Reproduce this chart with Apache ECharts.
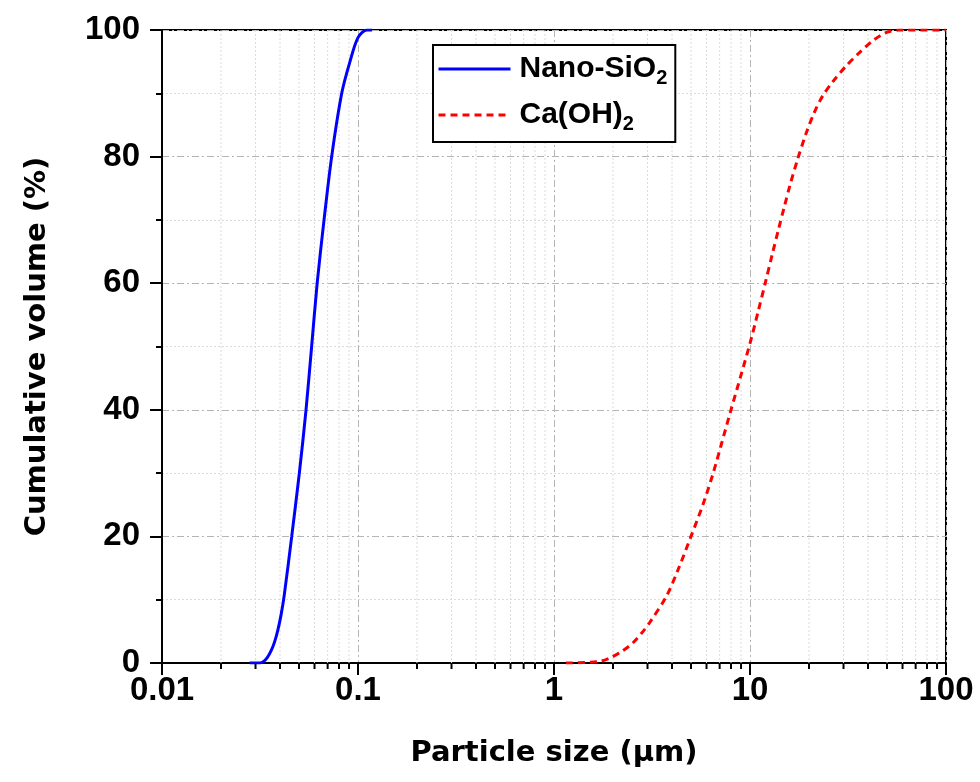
<!DOCTYPE html>
<html>
<head>
<meta charset="utf-8">
<title>Particle size distribution</title>
<script src="https://cdn.jsdelivr.net/npm/echarts@6/dist/echarts.min.js"></script>
<style>
  html, body { margin: 0; padding: 0; background: #fff; }
  #chart { width: 980px; height: 782px; }
</style>
</head>
<body>
<div id="chart"></div>
<script>
// Cumulative particle size distributions (size in µm, cumulative volume in %)
const nanoSize = [0.028, 0.0316, 0.033, 0.0345, 0.036, 0.0375, 0.039, 0.0405, 0.042, 0.0459, 0.0502, 0.0543, 0.058, 0.0619, 0.0671, 0.0734, 0.0826, 0.091, 0.1, 0.111, 0.118];
const nanoVol  = [0, 0, 0.25, 0.9, 1.9, 3.3, 5.2, 7.6, 10.6, 20, 30, 40, 50, 60, 70, 80, 90, 95, 98.8, 100, 100];

const caSize = [1.15, 1.68, 1.93, 2.21, 2.53, 2.85, 3.08, 3.74, 4.29, 5.0, 5.75, 6.46, 7.12, 8.0, 9.0, 10.0, 11.0, 12.0, 13.0, 14.0, 15.0, 16.0, 17.5, 19.3, 21.3, 23.5, 26.4, 30.9, 36.1, 42.3, 49.4, 57.8, 100];
const caVol  = [0, 0.2, 0.8, 1.8, 3.2, 5.0, 6.4, 10.5, 14.7, 20, 25, 29.8, 34.4, 40, 45.5, 50.5, 55.5, 60.2, 64.6, 68.6, 72.2, 75.5, 79.6, 83.6, 87.0, 89.6, 91.8, 94.3, 96.4, 98.3, 99.6, 100, 100];

const seriesNames = ['Nano-SiO2', 'Ca(OH)2'];
const xTickLabels = ['0.01', '0.1', '1', '10', '100'];
const yTickLabels = ['0', '20', '40', '60', '80', '100'];

// minor positions on the log axis: 2..9 within each decade
const decades = [0.01, 0.1, 1, 10];
const minorMultipliers = [2, 3, 4, 5, 6, 7, 8, 9];
const minorX = [];
decades.forEach(d => minorMultipliers.forEach(m => minorX.push([+(d * m).toPrecision(3), 0])));

const zip = (xs, ys) => xs.map((x, i) => [x, ys[i]]);

const labelFont = { color: '#000', fontWeight: 'bold', fontFamily: 'Liberation Sans, Arial, sans-serif', fontSize: 33 };
const titleFont = { color: '#000', fontWeight: 'bold', fontFamily: 'DejaVu Sans, sans-serif', fontSize: 29 };
const majorGrid = { color: '#b4b4b4', width: 1, type: [7, 3, 2, 3] };
const minorGrid = { color: '#dcdcdc', width: 1, type: [2, 2] };

const chart = echarts.init(document.getElementById('chart'), null, { renderer: 'canvas' });

chart.setOption({
  backgroundColor: '#fff',
  animation: false,
  grid: {
    left: 162, right: 34, top: 30, bottom: 119,
    show: true, borderColor: '#000', borderWidth: 2, backgroundColor: 'transparent'
  },
  legend: {
    orient: 'vertical',
    left: 433, top: 45,
    padding: [5, 8, 8, 4],
    itemGap: 8,
    itemWidth: 72,
    itemHeight: 14,
    borderColor: '#000',
    borderWidth: 2,
    backgroundColor: '#fff',
    itemStyle: { opacity: 0 },
    lineStyle: { width: 3 },
    data: seriesNames,
    formatter: name => name.replace(/2$/, '{sub|2}'),
    textStyle: {
      color: '#000', fontWeight: 'bold', fontFamily: 'Liberation Sans, Arial, sans-serif',
      fontSize: 30, lineHeight: 38, padding: [0, 0, 0, 4],
      rich: {
        sub: { fontSize: 20, fontWeight: 'bold', fontFamily: 'Liberation Sans, Arial, sans-serif', color: '#000', lineHeight: 14, verticalAlign: 'bottom' }
      }
    }
  },
  xAxis: {
    type: 'log',
    logBase: 10,
    min: 0.01,
    max: 100,
    name: 'Particle size (µm)',
    nameLocation: 'middle',
    nameGap: 76,
    nameTextStyle: titleFont,
    axisLine: { show: true, onZero: false, lineStyle: { color: '#000', width: 2 } },
    axisTick: { show: true, inside: false, length: 12, lineStyle: { color: '#000', width: 2 } },
    axisLabel: {
      ...labelFont, margin: 11,
      formatter: v => {
        const s = String(+v.toPrecision(3));
        return xTickLabels.includes(s) ? s : '';
      }
    },
    splitLine: { show: true, lineStyle: majorGrid },
    minorTick: { show: false },
    minorSplitLine: { show: false }
  },
  yAxis: {
    type: 'value',
    min: 0,
    max: 100,
    interval: 20,
    name: 'Cumulative volume (%)',
    nameLocation: 'middle',
    nameGap: 110,
    nameRotate: 90,
    nameTextStyle: titleFont,
    axisLine: { show: true, lineStyle: { color: '#000', width: 2 } },
    axisTick: { show: true, inside: false, length: 12, lineStyle: { color: '#000', width: 2 } },
    axisLabel: {
      ...labelFont, margin: 22,
      formatter: v => yTickLabels.includes(String(v)) ? String(v) : ''
    },
    splitLine: { show: true, lineStyle: majorGrid },
    minorTick: { show: true, splitNumber: 2, length: 6, lineStyle: { color: '#000', width: 2 } },
    minorSplitLine: { show: true, lineStyle: minorGrid }
  },
  series: [
    {
      // minor gridlines and minor ticks of the log x axis
      type: 'custom',
      name: 'xMinor',
      silent: true,
      clip: false,
      z: 1,
      data: minorX,
      encode: { x: 0, y: 1 },
      renderItem: (params, api) => {
        const bottom = api.coord([api.value(0), 0]);
        const top = api.coord([api.value(0), 100]);
        return {
          type: 'group',
          children: [
            { type: 'line', shape: { x1: bottom[0], y1: top[1], x2: bottom[0], y2: bottom[1] }, style: { stroke: '#dcdcdc', lineWidth: 1, lineDash: [2, 2] } },
            { type: 'line', shape: { x1: bottom[0], y1: bottom[1], x2: bottom[0], y2: bottom[1] + 6 }, style: { stroke: '#000', lineWidth: 2 } }
          ]
        };
      }
    },
    {
      name: seriesNames[0],
      type: 'line',
      data: zip(nanoSize, nanoVol),
      symbol: 'none',
      smooth: 0.3,
      z: 5,
      lineStyle: { color: '#0000ff', width: 3 },
      itemStyle: { color: '#0000ff' }
    },
    {
      name: seriesNames[1],
      type: 'line',
      data: zip(caSize, caVol),
      symbol: 'none',
      smooth: 0.3,
      z: 5,
      lineStyle: { color: '#ff0000', width: 3, type: [7, 5] },
      itemStyle: { color: '#ff0000' }
    }
  ]
});
</script>
</body>
</html>
